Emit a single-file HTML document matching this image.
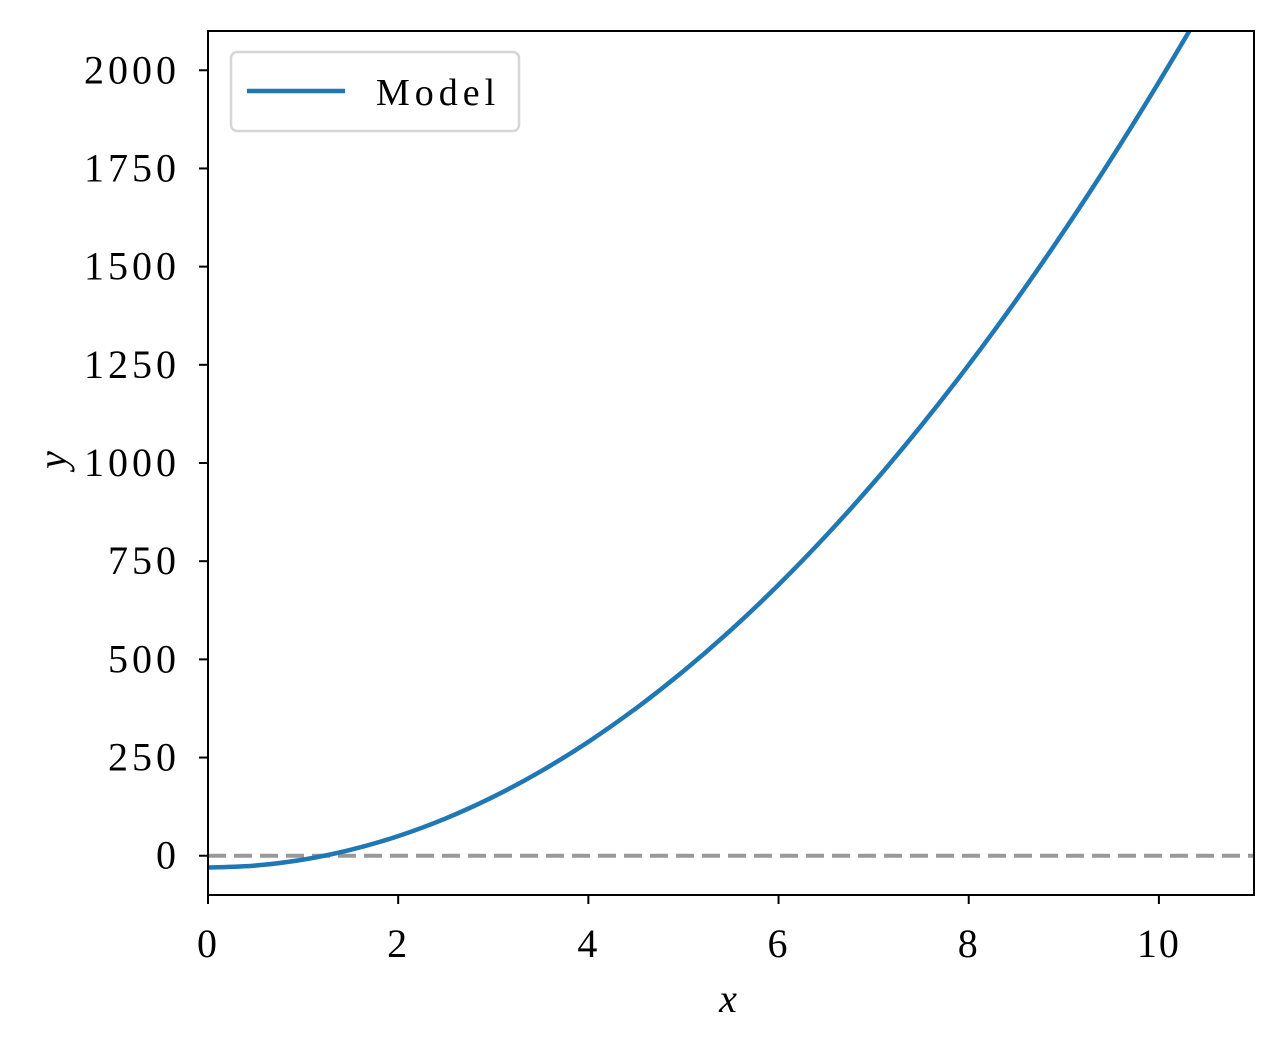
<!DOCTYPE html>
<html><head><meta charset="utf-8"><style>
html,body{margin:0;padding:0;background:#fff;}
svg text{font-family:"Liberation Serif",serif;fill:#000;}
</style></head><body>
<svg id="chart" width="1283" height="1053" viewBox="0 0 1283 1053" xmlns="http://www.w3.org/2000/svg">
<defs><clipPath id="plotclip"><rect x="208" y="31" width="1046" height="864"/></clipPath></defs>
<g id="marks" clip-path="url(#plotclip)"></g>
<rect x="208" y="31" width="1046" height="864" fill="none" stroke="#000" stroke-width="2"/>
<g id="axes"></g>
<text x="728" y="1012" font-size="40" font-style="italic" text-anchor="middle">x</text>
<text x="0" y="0" font-size="40" font-style="italic" text-anchor="middle" transform="translate(66,460) rotate(-90)">y</text>
<g>
<rect x="231" y="52" width="288" height="79" rx="6" fill="#fff" fill-opacity="0.8" stroke="#d6d6d6" stroke-width="2.5"/>
<line x1="247" y1="91" x2="345" y2="91" stroke="#1f77b4" stroke-width="4.5"/>
<text x="376" y="105" font-size="38" letter-spacing="5">Model</text>
</g>
</svg>
<script>
const xValues = [0,0.5,1,1.5,2,2.5,3,3.5,4,4.5,5,5.5,6,6.5,7,7.5,8,8.5,9,9.5,10,10.5,11];
const modelValues = [-30,-25,-10,15,50,95,150,215,290,375,470,575,690,815,950,1095,1250,1415,1590,1775,1970,2175,2390];
const xTicks = [0,2,4,6,8,10];
const yTicks = [0,250,500,750,1000,1250,1500,1750,2000];
const refValue = 0;
const X0=208,X1=1254,Y0=895,Y1=31,XMIN=0,XMAX=11,YMIN=-100,YMAX=2100;
function sx(v){return X0+(v-XMIN)/(XMAX-XMIN)*(X1-X0);}
function sy(v){return Y0-(v-YMIN)/(YMAX-YMIN)*(Y0-Y1);}
const NS="http://www.w3.org/2000/svg";
const marks=document.getElementById('marks'), axes=document.getElementById('axes');
const ref=document.createElementNS(NS,'line');


ref.setAttribute('x1',X0);ref.setAttribute('x2',X1);ref.setAttribute('y1',sy(refValue));ref.setAttribute('y2',sy(refValue));
ref.setAttribute('stroke','#999');ref.setAttribute('stroke-width','4');ref.setAttribute('stroke-dasharray','18 8');
marks.appendChild(ref);
const pts=xValues.map((x,i)=>[sx(x),sy(modelValues[i])]);
let d='M'+pts[0][0].toFixed(2)+','+pts[0][1].toFixed(2);
for(let i=0;i<pts.length-1;i++){
  const p0=pts[Math.max(i-1,0)],p1=pts[i],p2=pts[i+1],p3=pts[Math.min(i+2,pts.length-1)];
  const c1=[p1[0]+(p2[0]-p0[0])/6,p1[1]+(p2[1]-p0[1])/6];
  const c2=[p2[0]-(p3[0]-p1[0])/6,p2[1]-(p3[1]-p1[1])/6];
  d+='C'+c1[0].toFixed(2)+','+c1[1].toFixed(2)+' '+c2[0].toFixed(2)+','+c2[1].toFixed(2)+' '+p2[0].toFixed(2)+','+p2[1].toFixed(2);
}
const path=document.createElementNS(NS,'path');


path.setAttribute('d',d);path.setAttribute('fill','none');path.setAttribute('stroke','#1f77b4');path.setAttribute('stroke-width','4.5');path.setAttribute('stroke-linejoin','round');
marks.appendChild(path);
xTicks.forEach(t=>{
  const l=document.createElementNS(NS,'line');
  
  
  l.setAttribute('x1',sx(t));l.setAttribute('x2',sx(t));l.setAttribute('y1',Y0);l.setAttribute('y2',Y0+9);l.setAttribute('stroke','#000');l.setAttribute('stroke-width','2');
  axes.appendChild(l);
  const tx=document.createElementNS(NS,'text');
  
  
  tx.setAttribute('x',sx(t));tx.setAttribute('y',Y0+62);tx.setAttribute('font-size','40');tx.setAttribute('text-anchor','middle');tx.setAttribute('letter-spacing','2');
  tx.textContent=t;axes.appendChild(tx);
});
yTicks.forEach(t=>{
  const l=document.createElementNS(NS,'line');
  
  
  l.setAttribute('x1',X0-9);l.setAttribute('x2',X0);l.setAttribute('y1',sy(t));l.setAttribute('y2',sy(t));l.setAttribute('stroke','#000');l.setAttribute('stroke-width','2');
  axes.appendChild(l);
  const tx=document.createElementNS(NS,'text');
  
  
  tx.setAttribute('x',X0-28);tx.setAttribute('y',sy(t)+13);tx.setAttribute('font-size','40');tx.setAttribute('text-anchor','end');tx.setAttribute('letter-spacing','4');
  tx.textContent=t;axes.appendChild(tx);
});
</script>
</body></html>
